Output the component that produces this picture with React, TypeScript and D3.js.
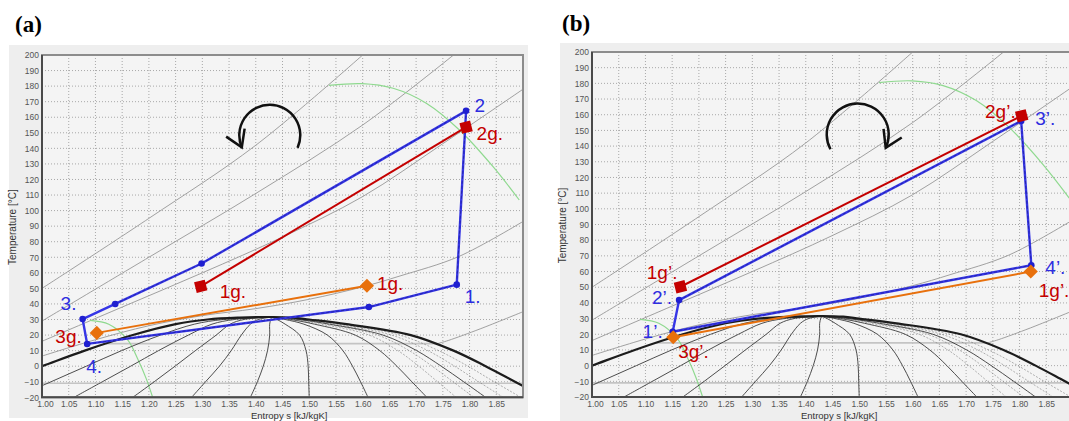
import React, { useEffect, useRef } from 'react';
import * as d3 from 'd3';

type Pt = [number, number];

const FONT = '"Liberation Sans", Arial, sans-serif';

// axis ticks
const entropyTicks = [1.0, 1.05, 1.1, 1.15, 1.2, 1.25, 1.3, 1.35, 1.4, 1.45, 1.5, 1.55, 1.6, 1.65, 1.7, 1.75, 1.8, 1.85];
const tempTicks = [-20, -10, 0, 10, 20, 30, 40, 50, 60, 70, 80, 90, 100, 110, 120, 130, 140, 150, 160, 170, 180, 190, 200];

// background of the diagram (same in both panels), [s, T]
const dome: Pt[] = [
  [0.84, -20], [0.92, -10], [1.0, 0], [1.08, 10], [1.17, 20], [1.25, 27], [1.31, 30], [1.37, 31.2],
  [1.43, 31.6], [1.47, 31.2], [1.5, 30], [1.57, 27], [1.69, 20], [1.77, 10], [1.83, 0], [1.885, -10], [1.94, -20],
];

const qualityLines: Pt[][] = [
  [[0.95, -20], [1.017, -10], [1.083, 0], [1.149, 10], [1.222, 20], [1.285, 27], [1.34, 30], [1.43, 31.6]],
  [[1.06, -20], [1.113, -10], [1.166, 0], [1.218, 10], [1.274, 20], [1.318, 27], [1.36, 30], [1.43, 31.6]],
  [[1.17, -20], [1.21, -10], [1.249, 0], [1.287, 10], [1.326, 20], [1.352, 27], [1.378, 30], [1.43, 31.6]],
  [[1.28, -20], [1.306, -10], [1.332, 0], [1.354, 10], [1.373, 20], [1.39, 27], [1.405, 30], [1.43, 31.6]],
  [[1.39, -20], [1.403, -10], [1.414, 0], [1.422, 10], [1.426, 20], [1.426, 27], [1.428, 30], [1.43, 31.6]],
  [[1.5, -20], [1.499, -10], [1.498, 0], [1.494, 10], [1.482, 20], [1.455, 27], [1.44, 30], [1.43, 31.6]],
  [[1.61, -20], [1.596, -10], [1.581, 0], [1.563, 10], [1.534, 20], [1.49, 27], [1.455, 30], [1.43, 31.6]],
  [[1.72, -20], [1.692, -10], [1.664, 0], [1.632, 10], [1.586, 20], [1.51, 27], [1.465, 30], [1.43, 31.6]],
  [[1.83, -20], [1.789, -10], [1.747, 0], [1.701, 10], [1.638, 20], [1.538, 27], [1.481, 30], [1.43, 31.6]],
];

const fineLines: Pt[][] = [
  [[1.775, -20], [1.74, -10], [1.705, 0], [1.666, 10], [1.612, 20], [1.522, 27], [1.471, 30], [1.43, 31.6]],
  [[1.808, -20], [1.769, -10], [1.73, 0], [1.687, 10], [1.628, 20], [1.532, 27], [1.477, 30], [1.43, 31.6]],
  [[1.863, -20], [1.817, -10], [1.772, 0], [1.722, 10], [1.654, 20], [1.548, 27], [1.487, 30], [1.43, 31.6]],
  [[1.896, -20], [1.846, -10], [1.797, 0], [1.742, 10], [1.669, 20], [1.557, 27], [1.492, 30], [1.43, 31.6]],
];

const isobars: Pt[][] = [
  [[1.0, 50], [1.2, 95], [1.4, 142], [1.6, 200]],
  [[1.0, 29], [1.2, 70], [1.4, 111], [1.6, 155], [1.77, 200]],
  [[1.0, 16], [1.15, 38], [1.3, 60], [1.45, 83], [1.6, 109], [1.75, 143], [1.9, 178]],
  [[1.0, 6.5], [1.1, 17], [1.2, 26], [1.3, 32.5], [1.4, 37], [1.5, 43], [1.6, 51], [1.67, 58], [1.78, 70.5], [1.9, 93]],
  [[1.74, 14.5], [1.76, 16.5], [1.82, 24], [1.9, 35]],
];

const flatIsobars: Pt[][] = [
  [[1.12, 14.5], [1.74, 14.5]],
  [[1.0, -11], [1.9, -11]],
];

const greenCurves: Pt[][] = [
  [[1.09, 29.5], [1.125, 27], [1.16, 17], [1.18, 4], [1.195, -8], [1.207, -20]],
  [[1.537, 180.5], [1.599, 181.6], [1.657, 178.6], [1.719, 169], [1.781, 151.8], [1.844, 128.2], [1.893, 106.8]],
];

// panel (a) cycle points
const A3: Pt = [1.076, 30.3];
const A3b: Pt = [1.137, 40];
const A3c: Pt = [1.2986, 66];
const A2: Pt = [1.7935, 164.1];
const A1: Pt = [1.776, 52.4];
const A1b: Pt = [1.6116, 38];
const A4: Pt = [1.0845, 14.3];
const A1gRed: Pt = [1.297, 51.3];
const A2g: Pt = [1.7935, 153.6];
const A3g: Pt = [1.1025, 21.4];
const A1gOrange: Pt = [1.608, 51.7];

const cycleA: Pt[] = [A3, A3b, A3c, A2, A1, A1b, A4, A3];
const dotsA: Pt[] = [A3, A3b, A3c, A2, A1, A1b, A4];
const redA: Pt[] = [A1gRed, A2g];
const orangeA: Pt[] = [A3g, A1gOrange];

// panel (b) cycle points
const B1: Pt = [1.151, 21.6];
const B2: Pt = [1.163, 41.8];
const B3: Pt = [1.803, 156];
const B4: Pt = [1.822, 64];
const B1gRed: Pt = [1.1655, 50.3];
const B2g: Pt = [1.804, 159.3];
const B3g: Pt = [1.152, 18.1];
const B1gOrange: Pt = [1.821, 60];

const cycleB: Pt[] = [B1, B2, B3, B4, B1];
const dotsB: Pt[] = [B1, B2, B3, B4];
const redB: Pt[] = [B1gRed, B2g];
const orangeB: Pt[] = [B3g, B1gOrange];

const BLUE = '#2d2de0';
const RED = '#c40000';
const ORANGE = '#e8700c';

type Label = { text: string; at: Pt; dx: number; dy: number; color: string; anchor?: string };

const labelsA: Label[] = [
  { text: '2', at: A2, dx: 8.5, dy: 1, color: BLUE },
  { text: '2g.', at: A2g, dx: 10.5, dy: 13, color: RED },
  { text: '1.', at: A1, dx: 8, dy: 18, color: BLUE },
  { text: '1g.', at: A1gOrange, dx: 10, dy: 4, color: RED },
  { text: '1g.', at: A1gRed, dx: 19, dy: 12, color: RED },
  { text: '3.', at: A3, dx: -22, dy: -9, color: BLUE },
  { text: '3g.', at: A3g, dx: -15, dy: 10, color: RED, anchor: 'end' },
  { text: '4.', at: A4, dx: -1, dy: 29, color: BLUE },
];

const labelsB: Label[] = [
  { text: '1g\u2019.', at: B1gRed, dx: -3, dy: -8, color: RED, anchor: 'end' },
  { text: '2\u2019.', at: B2, dx: -7, dy: 4, color: BLUE, anchor: 'end' },
  { text: '1\u2019.', at: B1, dx: -10, dy: 6, color: BLUE, anchor: 'end' },
  { text: '3g\u2019.', at: B3g, dx: 5, dy: 21, color: RED },
  { text: '2g\u2019.', at: B2g, dx: -6, dy: 2, color: RED, anchor: 'end' },
  { text: '3\u2019.', at: B3, dx: 14, dy: 4, color: BLUE },
  { text: '4\u2019.', at: B4, dx: 14, dy: 9, color: BLUE },
  { text: '1g\u2019.', at: B1gOrange, dx: 8, dy: 25, color: RED },
];

type PanelCfg = {
  id: string;
  title: string;
  titlePos: [number, number];
  frame: [number, number, number, number];
  left: number; right: number; top: number; bottom: number;
  cycle: Pt[]; dots: Pt[]; red: Pt[]; orange: Pt[];
  labels: Label[];
  arrow: { at: Pt; r: number; a0: number; a1: number; clockwise: boolean };
};

const panels: PanelCfg[] = [
  {
    id: 'a', title: '(a)', titlePos: [15, 32],
    frame: [9, 45, 519, 373],
    left: 42, right: 523, top: 55, bottom: 397.3,
    cycle: cycleA, dots: dotsA, red: redA, orange: orangeA, labels: labelsA,
    arrow: { at: [1.4262, 148.4], r: 30.5, a0: 24.4, a1: 156.6, clockwise: false },
  },
  {
    id: 'b', title: '(b)', titlePos: [562, 30.5],
    frame: [560, 43, 520, 390],
    left: 592, right: 1073, top: 52, bottom: 397,
    cycle: cycleB, dots: dotsB, red: redB, orange: orangeB, labels: labelsB,
    arrow: { at: [1.4972, 147.4], r: 31, a0: 151.6, a1: 25.4, clockwise: true },
  },
];

function drawPanel(root: any, p: PanelCfg) {
  const g = root.append('g');
  g.append('rect')
    .attr('x', p.frame[0]).attr('y', p.frame[1])
    .attr('width', p.frame[2]).attr('height', p.frame[3])
    .attr('fill', '#eeeeee');

  g.append('text')
    .attr('x', p.titlePos[0]).attr('y', p.titlePos[1])
    .attr('font-family', '"Liberation Serif", "Times New Roman", serif')
    .attr('font-weight', 'bold').attr('font-size', 23)
    .text(p.title);

  const x = d3.scaleLinear().domain([1.0, 1.9]).range([p.left, p.right]);
  const y = d3.scaleLinear().domain([-20, 200]).range([p.bottom, p.top]);

  g.append('rect')
    .attr('x', p.left).attr('y', p.top)
    .attr('width', p.right - p.left).attr('height', p.bottom - p.top)
    .attr('fill', '#f4f4f4');

  // grid
  g.append('g').selectAll('line').data(entropyTicks.slice(1)).join('line')
    .attr('x1', (d: number) => x(d)).attr('x2', (d: number) => x(d))
    .attr('y1', p.top).attr('y2', p.bottom)
    .attr('stroke', '#a8a8a8').attr('stroke-dasharray', '1,2');
  g.append('g').selectAll('line').data(tempTicks.slice(1, -1)).join('line')
    .attr('y1', (d: number) => y(d)).attr('y2', (d: number) => y(d))
    .attr('x1', p.left).attr('x2', p.right)
    .attr('stroke', '#a8a8a8').attr('stroke-dasharray', '1,2');

  const clipId = `clip-${p.id}`;
  g.append('clipPath').attr('id', clipId).append('rect')
    .attr('x', p.left).attr('y', p.top)
    .attr('width', p.right - p.left).attr('height', p.bottom - p.top);
  const plot = g.append('g').attr('clip-path', `url(#${clipId})`);

  const curve = d3.line<Pt>().x(d => x(d[0])).y(d => y(d[1])).curve(d3.curveCatmullRom);
  const straight = d3.line<Pt>().x(d => x(d[0])).y(d => y(d[1]));

  plot.append('g').selectAll('path').data(flatIsobars).join('path')
    .attr('d', straight).attr('fill', 'none').attr('stroke', '#c4c4c4').attr('stroke-width', 1.6);
  plot.append('g').selectAll('path').data(isobars).join('path')
    .attr('d', curve).attr('fill', 'none').attr('stroke', '#969696').attr('stroke-width', 0.9);
  plot.append('g').selectAll('path').data(greenCurves).join('path')
    .attr('d', curve).attr('fill', 'none').attr('stroke', '#8fd98f').attr('stroke-width', 1.2);
  plot.append('g').selectAll('path').data(fineLines).join('path')
    .attr('d', curve).attr('fill', 'none').attr('stroke', '#666').attr('stroke-width', 0.5)
    .attr('stroke-dasharray', '2,1.5');
  plot.append('g').selectAll('path').data(qualityLines).join('path')
    .attr('d', curve).attr('fill', 'none').attr('stroke', '#3a3a3a').attr('stroke-width', 0.9);
  plot.append('path').datum(dome)
    .attr('d', curve).attr('fill', 'none').attr('stroke', '#1c1c1c').attr('stroke-width', 2.2);

  // cycle
  plot.append('path').datum(p.cycle)
    .attr('d', straight).attr('fill', 'none').attr('stroke', '#3535e6').attr('stroke-width', 2.4)
    .attr('stroke-linejoin', 'round');
  const segs = d3.pairs(p.cycle).filter(([a, b]) => Math.hypot(x(b[0]) - x(a[0]), y(b[1]) - y(a[1])) > 90);
  plot.append('g').selectAll('path').data(segs).join('path')
    .attr('d', (d: any) => straight(d)).attr('fill', 'none')
    .attr('stroke', '#16167a').attr('stroke-width', 0.9).attr('stroke-dasharray', '3,2').attr('opacity', 0.6);
  plot.append('path').datum(p.red)
    .attr('d', straight).attr('fill', 'none').attr('stroke', RED).attr('stroke-width', 2);
  plot.append('path').datum(p.orange)
    .attr('d', straight).attr('fill', 'none').attr('stroke', ORANGE).attr('stroke-width', 2);

  plot.append('g').selectAll('circle').data(p.dots).join('circle')
    .attr('cx', (d: Pt) => x(d[0])).attr('cy', (d: Pt) => y(d[1])).attr('r', 3.3)
    .attr('fill', '#1f1fd0');

  const square = d3.symbol().type(d3.symbolSquare).size(121);
  plot.append('g').selectAll('path').data(p.red).join('path')
    .attr('d', square)
    .attr('transform', (d: Pt) => `translate(${x(d[0])},${y(d[1])}) rotate(-14)`)
    .attr('fill', RED);
  const diamond = d3.symbol().type(d3.symbolSquare).size(100);
  plot.append('g').selectAll('path').data(p.orange).join('path')
    .attr('d', diamond)
    .attr('transform', (d: Pt) => `translate(${x(d[0])},${y(d[1])}) rotate(45)`)
    .attr('fill', ORANGE);

  // frame
  g.append('rect')
    .attr('x', p.left).attr('y', p.top)
    .attr('width', p.right - p.left).attr('height', p.bottom - p.top)
    .attr('fill', 'none').attr('stroke', '#8c8c8c').attr('stroke-width', 2);
  g.append('path')
    .attr('d', `M${p.left},${p.top}V${p.bottom}H${p.right}`)
    .attr('fill', 'none').attr('stroke', '#4a4a4a').attr('stroke-width', 2);

  // axes
  const xAxis = g.append('g')
    .attr('transform', `translate(0,${p.bottom})`)
    .call(d3.axisBottom(x).tickValues(entropyTicks).tickFormat(d3.format('.2f')).tickSize(0).tickPadding(4));
  xAxis.select('.domain').remove();
  xAxis.attr('font-size', 8.5).attr('font-family', FONT).attr('color', '#555');
  xAxis.select('.tick text').attr('dx', 3);

  const yAxis = g.append('g')
    .attr('transform', `translate(${p.left},0)`)
    .call(d3.axisLeft(y).tickValues(tempTicks).tickSize(0).tickPadding(3));
  yAxis.select('.domain').remove();
  yAxis.attr('font-size', 8.5).attr('font-family', FONT).attr('color', '#555');

  g.append('text')
    .attr('transform', `translate(${p.left - 26},${(p.top + p.bottom) / 2 + 1}) rotate(-90)`)
    .attr('text-anchor', 'middle').attr('font-family', FONT).attr('font-size', 10).attr('fill', '#333')
    .text('Temperature [\u00b0C]');
  g.append('text')
    .attr('x', x(1.4625)).attr('y', 418.6)
    .attr('text-anchor', 'middle').attr('font-family', FONT).attr('font-size', 9.5).attr('fill', '#333')
    .text('Entropy s [kJ/kgK]');

  // rotation arrow
  const a = p.arrow;
  const cx = x(a.at[0]);
  const cy = y(a.at[1]);
  const rad = Math.PI / 180;
  const pt = (deg: number): Pt => [cx + a.r * Math.cos(deg * rad), cy + a.r * Math.sin(deg * rad)];
  const s0 = pt(a.a0);
  const s1 = pt(a.a1);
  g.append('path')
    .attr('d', `M${s0[0]},${s0[1]}A${a.r},${a.r} 0 1 ${a.clockwise ? 1 : 0} ${s1[0]},${s1[1]}`)
    .attr('fill', 'none').attr('stroke', '#111').attr('stroke-width', 2.5);
  const t = a.a1 * rad;
  const dir: Pt = a.clockwise ? [-Math.sin(t), Math.cos(t)] : [Math.sin(t), -Math.cos(t)];
  const back = Math.atan2(-dir[1], -dir[0]);
  const arm = (off: number): Pt => [s1[0] + 19 * Math.cos(back + off * rad), s1[1] + 19 * Math.sin(back + off * rad)];
  const l1 = arm(32);
  const l2 = arm(-32);
  g.append('path')
    .attr('d', `M${l1[0]},${l1[1]}L${s1[0]},${s1[1]}L${l2[0]},${l2[1]}`)
    .attr('fill', 'none').attr('stroke', '#111').attr('stroke-width', 2.5).attr('stroke-linejoin', 'miter');

  // point labels
  g.append('g').selectAll('text').data(p.labels).join('text')
    .attr('x', (d: Label) => x(d.at[0]) + d.dx)
    .attr('y', (d: Label) => y(d.at[1]) + d.dy)
    .attr('text-anchor', (d: Label) => d.anchor || 'start')
    .attr('font-family', FONT).attr('font-size', 19)
    .attr('fill', (d: Label) => d.color)
    .text((d: Label) => d.text);
}

const App = () => {
  const svgRef = useRef<SVGSVGElement>(null);

  useEffect(() => {
    const svg = d3.select(svgRef.current);
    svg.selectAll('*').remove();
    svg.append('rect').attr('width', 1069).attr('height', 421).attr('fill', '#ffffff');
    panels.forEach(p => drawPanel(svg, p));
  }, []);

  return (
    <svg
      ref={svgRef}
      width={1069}
      height={421}
      style={{ position: 'absolute', left: 0, top: 0, display: 'block' }}
    />
  );
};

export default App;
